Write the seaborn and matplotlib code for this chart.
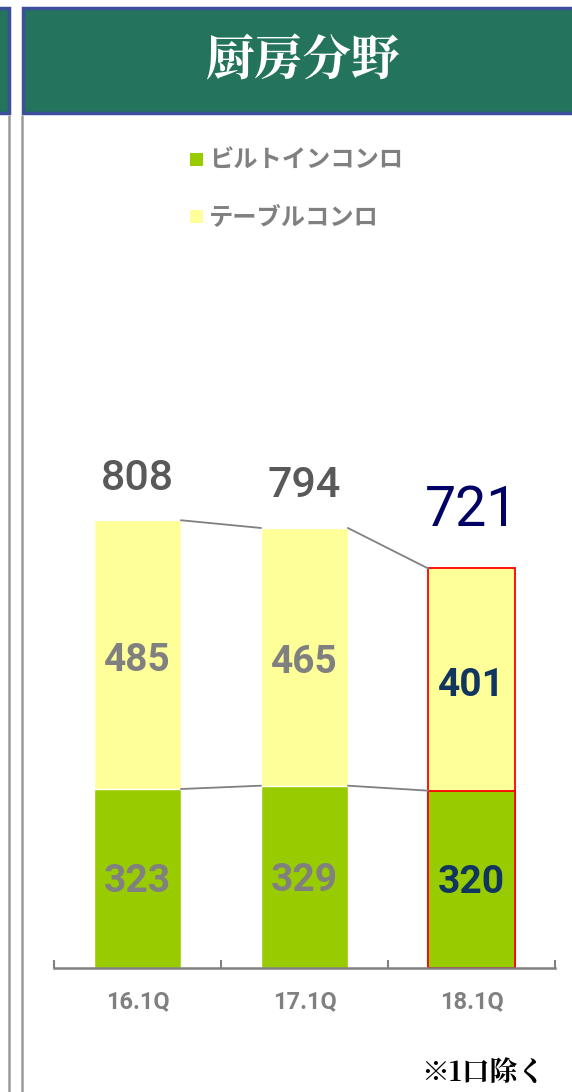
import matplotlib
matplotlib.use("Agg")
import matplotlib.pyplot as plt
from matplotlib.patches import Rectangle
from matplotlib.lines import Line2D
import seaborn as sns

quarters = ["16.1Q", "17.1Q", "18.1Q"]
builtin = [323, 329, 320]      # ビルトインコンロ
table = [485, 465, 401]        # テーブルコンロ
totals = [808, 794, 721]
series_names = ["ビルトインコンロ", "テーブルコンロ"]

GREEN = "#99CC00"
YELLOW = "#FFFF99"
GRAY = "#808080"
NAVY = "#000066"
DARKBLUE = "#10365F"
JP = ["Noto Sans CJK JP", "DejaVu Sans"]
NUM = ["Roboto", "DejaVu Sans"]

sns.set_style("white")
W, H = 572, 1092
fig = plt.figure(figsize=(W / 100, H / 100), dpi=100)

def fx(px):
    return px / W

def fy(py):
    return 1 - py / H

# header band
fig.add_artist(Rectangle((fx(23), fy(113)), fx(580), 105 / H, transform=fig.transFigure,
                         facecolor="#23735D", edgecolor="#3B4F9A", linewidth=2.5))
fig.add_artist(Rectangle((fx(-20), fy(113)), fx(29), 105 / H, transform=fig.transFigure,
                         facecolor="#23735D", edgecolor="#3B4F9A", linewidth=2.5))
fig.text(fx(303), fy(62), "厨房分野", color="white", fontsize=35, fontweight="bold",
         family=["Noto Serif CJK JP", "Noto Sans CJK JP"], ha="center", va="center")
for xl in (9, 22):
    fig.add_artist(Line2D([fx(xl), fx(xl)], [fy(116), 0], transform=fig.transFigure,
                          color="#9A9A9A", linewidth=1.8))

# legend
for i, (name, col) in enumerate(zip(series_names, [GREEN, YELLOW])):
    yc = 160 + i * 57
    fig.add_artist(Rectangle((fx(190), fy(yc + 6)), fx(13), 13 / H, transform=fig.transFigure,
                             facecolor=col, edgecolor="none"))
    fig.text(fx(209), fy(yc), name, color=GRAY, fontsize=17.5, fontweight="bold",
             family=JP, ha="left", va="center")

# chart
base_px, top_px = 968, 303
ax = fig.add_axes([fx(54), fy(base_px), fx(501), (base_px - top_px) / H])
bw = 0.52
sns.barplot(x=quarters, y=totals, color=YELLOW, width=bw, saturation=1, ax=ax)
sns.barplot(x=quarters, y=builtin, color=GREEN, width=bw, saturation=1, ax=ax)
n = len(quarters)
for p in (ax.patches[n - 1], ax.patches[2 * n - 1]):
    p.set_edgecolor("#FF0000")
    p.set_linewidth(1.3)
ax.set_ylim(0, 1200)
ax.set_xlim(-0.5, n - 0.5)

# connector lines
for i in range(n - 1):
    x0, x1 = i + bw / 2, i + 1 - bw / 2
    ax.plot([x0, x1], [totals[i], totals[i + 1]], color=GRAY, linewidth=1.3, zorder=1)
    ax.plot([x0, x1], [builtin[i], builtin[i + 1]], color=GRAY, linewidth=1.3, zorder=1)

# labels
for i in range(n):
    hl = i == n - 1
    ax.text(i, totals[i] + (105 if hl else 76), str(totals[i]), ha="center", va="center",
            color=NAVY if hl else "#595959", fontsize=40 if hl else 31,
            fontweight="normal" if hl else "medium", family=NUM)
    ax.text(i, builtin[i] + table[i] / 2 - 10, str(table[i]), ha="center", va="center",
            color=DARKBLUE if hl else GRAY, fontsize=28, fontweight="bold", family=NUM)
    ax.text(i, builtin[i] / 2 - 6, str(builtin[i]), ha="center", va="center",
            color=DARKBLUE if hl else GRAY, fontsize=28, fontweight="bold", family=NUM)

for s in ("top", "right", "left"):
    ax.spines[s].set_visible(False)
ax.spines["bottom"].set_color(GRAY)
ax.spines["bottom"].set_linewidth(1.8)
ax.set_yticks([])
ax.set_xticks(range(n))
ax.set_xticklabels(quarters, color=GRAY, fontsize=17, fontweight="bold", family=NUM)
ax.set_xticks([k - 0.5 for k in range(n + 1)], minor=True)
ax.tick_params(axis="x", which="major", length=0, pad=16)
ax.tick_params(axis="x", which="minor", length=6, width=1.5, color=GRAY, direction="in", bottom=True)
ax.set_xlabel("")
ax.set_ylabel("")
ax.patch.set_alpha(0)

fig.text(fx(545), fy(1073), "※1口除く", color="black", fontsize=20, fontweight="bold",
         family=["Noto Serif CJK JP", "Noto Sans CJK JP", "DejaVu Sans"], ha="right", va="center")

fig.savefig("out.png", dpi=100)
